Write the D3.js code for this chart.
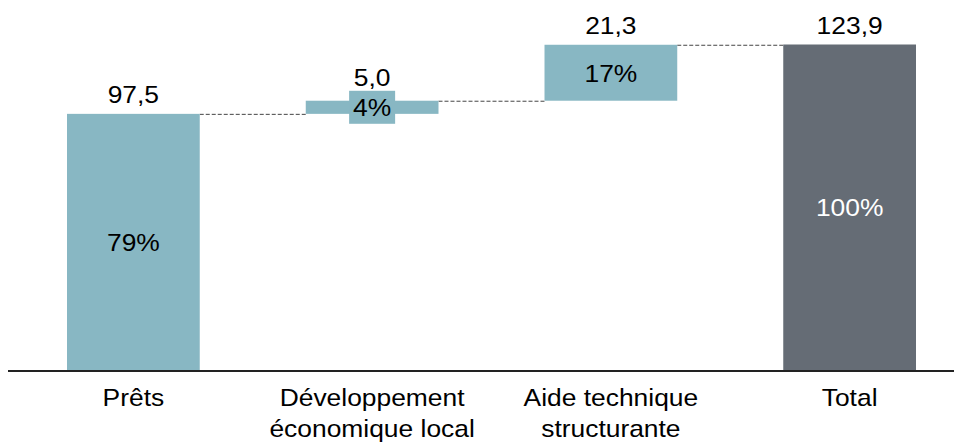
<!DOCTYPE html>
<html>
<head>
<meta charset="utf-8">
<script src="https://cdn.jsdelivr.net/npm/d3@7"></script>
<style>
	body { margin: 0; background: #fff; }
	svg text { font-family: "Liberation Sans", Arial, sans-serif; }
</style>
</head>
<body>
<div id="chart"></div>
<script>
// categories and values (millions)
var categories = [["Prêts"], ["Développement", "économique local"], ["Aide technique", "structurante"], ["Total"]];
var values = [97.5, 5.0, 21.3, 123.9];
var isTotal = [false, false, false, true];
var valueLabels = ["97,5", "5,0", "21,3", "123,9"];

var width = 954, height = 442;
var baseY = 370;
var fontSize = 24, stretch = 1.1;

var svg = d3.select("#chart").append("svg")
	.attr("width", width)
	.attr("height", height);

// text helper - reference text is slightly wide
function label(px, py, txt, fill) {
	return svg.append("text")
		.attr("transform", "translate(" + px + "," + py + ") scale(" + stretch + ",1)")
		.attr("text-anchor", "middle")
		.attr("font-size", fontSize + "px")
		.attr("fill", fill || "#000")
		.text(txt);
}

// build waterfall steps
var steps = [];
var running = 0;
values.forEach(function (v, i) {
	if (isTotal[i]) {
		steps.push({i: i, y0: 0, y1: v, v: v});
	} else {
		steps.push({i: i, y0: running, y1: running + v, v: v});
		running += v;
	}
});
var total = values[values.length - 1];

// scales
var x = d3.scaleBand()
	.domain(d3.range(categories.length))
	.range([14, 969])
	.paddingInner(0.444)
	.paddingOuter(0.222);

var y = d3.scaleLinear()
	.domain([0, total])
	.range([baseY, 44.5]);

var teal = "#88b7c3", grey = "#656c75";

// dashed connectors
for (var k = 0; k < steps.length - 1; k++) {
	svg.append("line")
		.attr("x1", x(k) + x.bandwidth())
		.attr("x2", x(k + 1))
		.attr("y1", y(steps[k].y1) + 0.5)
		.attr("y2", y(steps[k].y1) + 0.5)
		.attr("stroke", "#444")
		.attr("stroke-width", 1)
		.attr("stroke-dasharray", "4,2");
}

// bars
svg.selectAll("rect.bar")
	.data(steps)
	.enter().append("rect")
	.attr("class", "bar")
	.attr("x", function (d) { return x(d.i); })
	.attr("width", x.bandwidth())
	.attr("y", function (d) { return y(d.y1); })
	.attr("height", function (d) { return y(d.y0) - y(d.y1); })
	.attr("fill", function (d) { return isTotal[d.i] ? grey : teal; });

// percentage labels (with a box behind when the bar is too thin)
steps.forEach(function (d) {
	var cx = x(d.i) + x.bandwidth() / 2;
	var cy = (y(d.y0) + y(d.y1)) / 2;
	var h = y(d.y0) - y(d.y1);
	var pct = Math.round(d.v / total * 100) + "%";
	var top = y(d.y1) - 10.5;
	if (h < 30) {
		svg.append("rect")
			.attr("x", cx - 23)
			.attr("y", cy - 16.5)
			.attr("width", 46)
			.attr("height", 33)
			.attr("fill", teal);
		top = cy - 16.5 - 5;
	}
	label(cx, cy + fontSize * 0.37, pct, isTotal[d.i] ? "#fff" : "#000");
	label(cx, top, valueLabels[d.i]);
});

// baseline
svg.append("line")
	.attr("x1", 8)
	.attr("x2", width)
	.attr("y1", baseY + 1)
	.attr("y2", baseY + 1)
	.attr("stroke", "#222")
	.attr("stroke-width", 2);

// category labels
categories.forEach(function (lines, i) {
	lines.forEach(function (s, j) {
		label(x(i) + x.bandwidth() / 2, 406 + j * 31, s);
	});
});
</script>
</body>
</html>
